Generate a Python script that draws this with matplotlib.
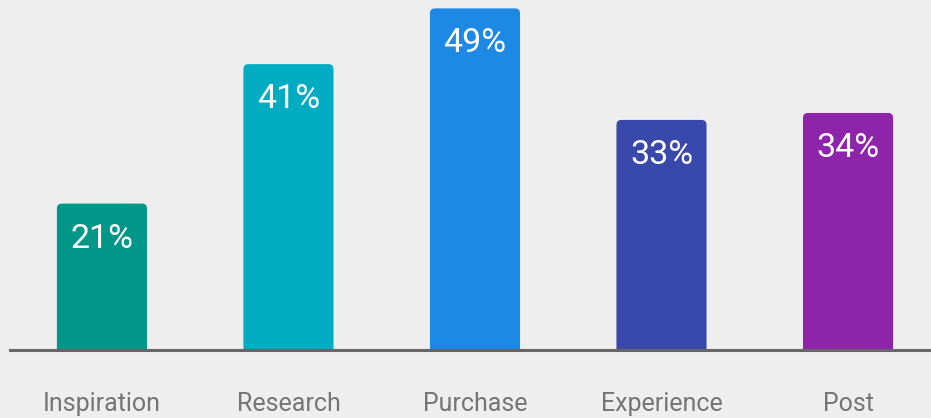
import matplotlib.pyplot as plt
from matplotlib.patches import FancyBboxPatch

stages = ['Inspiration', 'Research', 'Purchase', 'Experience', 'Post']
shares = [21, 41, 49, 33, 34]
colors = ['#009688', '#00ACC1', '#1E88E5', '#3949AB', '#8E24AA']

bg = '#EEEEEE'
plt.rcParams['font.family'] = ['Roboto', 'DejaVu Sans']

fig = plt.figure(figsize=(9.31, 4.18), dpi=100, facecolor=bg)
ax = fig.add_axes([10 / 931, 68 / 418, 921 / 931, 350 / 418], facecolor=bg)
ax.set_xlim(-0.493, 4.445)
ax.set_ylim(0, 50.2)

bars = ax.bar(range(len(stages)), shares, width=0.483, color=colors)

# swap plain rectangles for ones with rounded tops
px_x = 921 / (4.445 + 0.493)
px_y = 350 / 50.2
for rect, c in zip(bars, colors):
    x, y = rect.get_x(), rect.get_y()
    w, h = rect.get_width(), rect.get_height()
    rect.remove()
    r = 5 / px_x
    patch = FancyBboxPatch((x, y - 2), w, h + 2,
                           boxstyle=f'round,pad=0,rounding_size={r}',
                           mutation_aspect=px_x / px_y,
                           facecolor=c, edgecolor='none')
    ax.add_patch(patch)

ax.axhline(0, color='#666666', linewidth=2.2, clip_on=False, zorder=3)

for i, (s, v) in enumerate(zip(stages, shares)):
    ax.annotate(f'{v}%', xy=(i, v), xytext=(0, -31.7), textcoords='offset points',
                ha='center', va='baseline', color='white', fontsize=24.5)
    ax.annotate(s, xy=(i, 0), xytext=(0, -44), textcoords='offset points',
                ha='center', va='baseline', color='#757575', fontsize=18,
                annotation_clip=False)

ax.axis('off')
fig.savefig('out.png', dpi=100, facecolor=bg)
